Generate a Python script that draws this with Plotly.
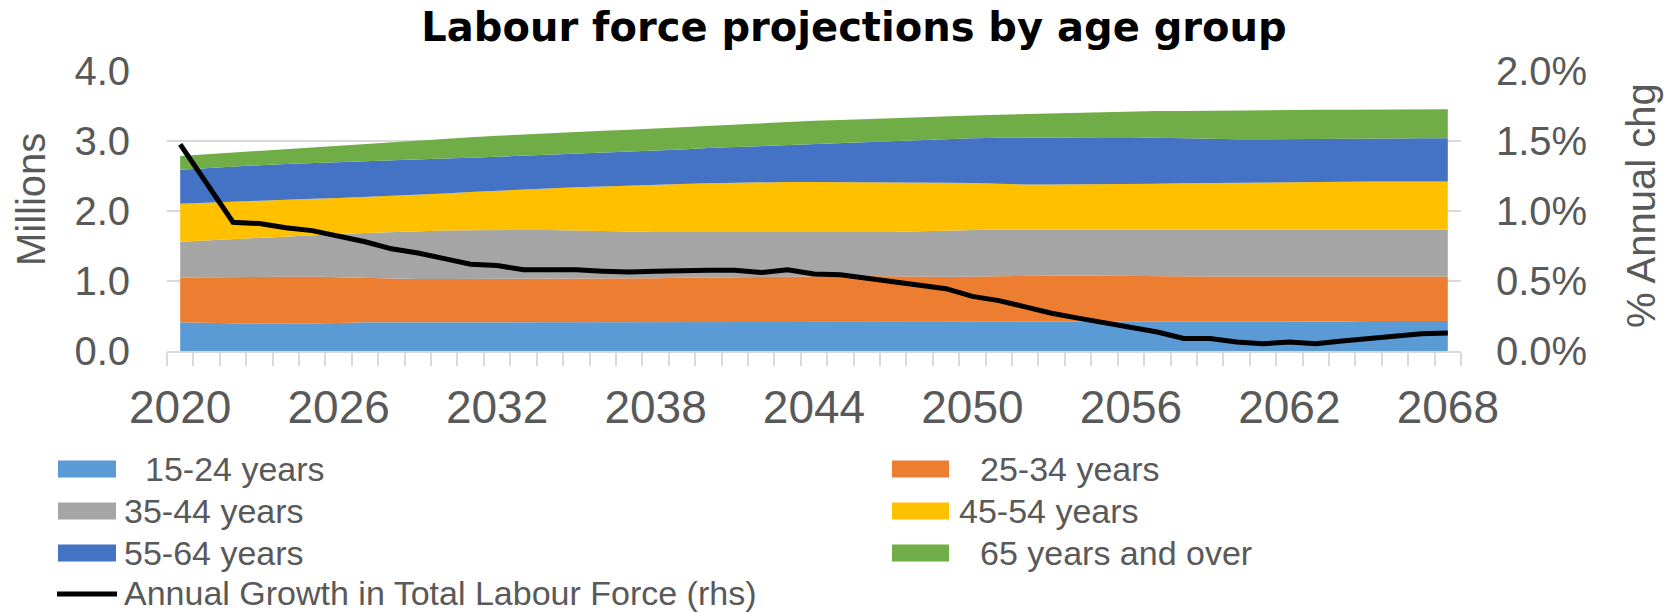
import plotly.graph_objects as go

# ---- data -------------------------------------------------------------
years = list(range(2020, 2069))

age_15_24 = [0.41, 0.40, 0.39, 0.39, 0.39, 0.39, 0.40, 0.41, 0.41, 0.41,
             0.41, 0.41, 0.41, 0.41, 0.41, 0.41, 0.41, 0.41, 0.41, 0.42,
             0.42, 0.42, 0.42, 0.42, 0.42, 0.42, 0.42, 0.42, 0.42, 0.42,
             0.42, 0.42, 0.42, 0.42, 0.42, 0.42, 0.42, 0.42, 0.42, 0.42,
             0.42, 0.42, 0.42, 0.42, 0.42, 0.43, 0.43, 0.43, 0.43]
age_25_34 = [0.640, 0.655, 0.670, 0.670, 0.675, 0.675, 0.655, 0.635, 0.625, 0.620,
             0.620, 0.620, 0.620, 0.620, 0.620, 0.625, 0.625, 0.625, 0.630, 0.625,
             0.630, 0.635, 0.640, 0.650, 0.650, 0.650, 0.650, 0.645, 0.640, 0.640,
             0.645, 0.650, 0.655, 0.660, 0.660, 0.655, 0.650, 0.645, 0.645, 0.645,
             0.645, 0.645, 0.645, 0.645, 0.645, 0.635, 0.635, 0.635, 0.635]
age_35_44 = [0.510, 0.525, 0.540, 0.560, 0.575, 0.585, 0.615, 0.640, 0.665, 0.680,
             0.690, 0.695, 0.700, 0.705, 0.700, 0.685, 0.675, 0.665, 0.660, 0.655,
             0.650, 0.645, 0.640, 0.630, 0.625, 0.620, 0.625, 0.635, 0.650, 0.660,
             0.665, 0.665, 0.660, 0.655, 0.655, 0.660, 0.665, 0.670, 0.670, 0.670,
             0.670, 0.670, 0.670, 0.670, 0.670, 0.670, 0.670, 0.670, 0.670]
age_45_54 = [0.545, 0.540, 0.540, 0.530, 0.525, 0.525, 0.515, 0.515, 0.510, 0.520,
             0.530, 0.545, 0.560, 0.575, 0.600, 0.620, 0.640, 0.665, 0.675, 0.685,
             0.695, 0.705, 0.715, 0.715, 0.720, 0.725, 0.720, 0.710, 0.700, 0.685,
             0.670, 0.650, 0.645, 0.645, 0.645, 0.650, 0.655, 0.655, 0.660, 0.665,
             0.670, 0.675, 0.680, 0.680, 0.685, 0.685, 0.685, 0.685, 0.685]
age_55_64 = [0.485, 0.495, 0.500, 0.505, 0.505, 0.510, 0.515, 0.515, 0.520, 0.510,
             0.500, 0.490, 0.485, 0.475, 0.470, 0.470, 0.475, 0.475, 0.485, 0.495,
             0.505, 0.510, 0.515, 0.530, 0.545, 0.560, 0.575, 0.590, 0.605, 0.625,
             0.640, 0.660, 0.670, 0.675, 0.675, 0.670, 0.665, 0.655, 0.640, 0.625,
             0.620, 0.615, 0.610, 0.610, 0.605, 0.610, 0.615, 0.620, 0.620]
age_65_plus = [0.195, 0.195, 0.190, 0.200, 0.210, 0.225, 0.235, 0.245, 0.260, 0.270,
               0.285, 0.295, 0.300, 0.310, 0.310, 0.320, 0.320, 0.320, 0.320, 0.320,
               0.315, 0.315, 0.320, 0.325, 0.330, 0.325, 0.325, 0.330, 0.330, 0.325,
               0.325, 0.330, 0.335, 0.340, 0.355, 0.365, 0.370, 0.385, 0.395, 0.410,
               0.415, 0.415, 0.420, 0.420, 0.420, 0.420, 0.415, 0.410, 0.415]

# annual growth in the total labour force, per cent
growth_pct = [1.476, 1.200, 0.920, 0.910, 0.880, 0.860, 0.820, 0.780, 0.730, 0.700,
              0.660, 0.620, 0.610, 0.580, 0.580, 0.580, 0.570, 0.564, 0.570, 0.576,
              0.576, 0.576, 0.560, 0.580, 0.550, 0.545, 0.520, 0.495, 0.470, 0.445,
              0.390, 0.360, 0.315, 0.270, 0.235, 0.205, 0.170, 0.136, 0.090, 0.090,
              0.064, 0.052, 0.064, 0.052, 0.071, 0.088, 0.112, 0.124, 0.129]

series_names = ["15-24 years", "25-34 years", "35-44 years",
                "45-54 years", "55-64 years", "65 years and over"]
series_values = [age_15_24, age_25_34, age_35_44, age_45_54, age_55_64, age_65_plus]
series_colors = ["#5B9BD5", "#ED7D31", "#A5A5A5", "#FFC000", "#4472C4", "#70AD47"]
line_name = "Annual Growth in Total Labour Force (rhs)"

x_ticks = list(range(2020, 2069, 6))
y_ticks = [0, 1, 2, 3, 4]
y_ticktext = ["0.0", "1.0", "2.0", "3.0", "4.0"]
y2_ticks = [0.0, 0.5, 1.0, 1.5, 2.0]
y2_ticktext = ["0.0%", "0.5%", "1.0%", "1.5%", "2.0%"]

# ---- page geometry (pixels) ---------------------------------------------
W, H = 1673, 612
L, R, T, B = 167, 1461, 71, 351
GRID = "#D9D9D9"
TXT = "#595959"
FONT = "Liberation Sans, Arial, sans-serif"


def px_x(p):
    return (p - L) / (R - L)


def px_y(p):
    return (B - p) / (B - T)


fig = go.Figure()

for name, vals, col in zip(series_names, series_values, series_colors):
    fig.add_trace(go.Scatter(
        x=years, y=vals, name=name, mode="lines",
        line=dict(width=0, color=col), fillcolor=col,
        stackgroup="labour", showlegend=False,
    ))

fig.add_trace(go.Scatter(
    x=years, y=growth_pct, name=line_name, mode="lines",
    line=dict(color="black", width=5), yaxis="y2", showlegend=False,
))

# ---- hand-built legend ----------------------------------------------------
shapes = []
annotations = []
legend_rows = [469, 511, 553]
col_swatch = [(58, 116), (892, 949)]
# text start per entry; some labels sit further from their swatch
legend_text_x = [143, 978, 122, 957, 122, 978]
for k, (name, col) in enumerate(zip(series_names, series_colors)):
    c, r = k % 2, k // 2
    yc = legend_rows[r]
    x0, x1 = col_swatch[c]
    shapes.append(dict(type="rect", xref="paper", yref="paper",
                       x0=px_x(x0), x1=px_x(x1), y0=px_y(yc + 8.5), y1=px_y(yc - 8.5),
                       fillcolor=col, line=dict(width=0), layer="above"))
    annotations.append(dict(text=name, xref="paper", yref="paper",
                            x=px_x(legend_text_x[k]), y=px_y(yc),
                            xanchor="left", yanchor="middle", showarrow=False,
                            font=dict(family=FONT, size=34, color=TXT)))
shapes.append(dict(type="line", xref="paper", yref="paper",
                   x0=px_x(57), x1=px_x(117), y0=px_y(594), y1=px_y(594),
                   line=dict(color="black", width=5)))
annotations.append(dict(text=line_name, xref="paper", yref="paper",
                        x=px_x(122), y=px_y(593), xanchor="left", yanchor="middle",
                        showarrow=False, font=dict(family=FONT, size=34, color=TXT)))

# axis titles
annotations.append(dict(text="Millions", xref="paper", yref="paper",
                        x=px_x(31), y=px_y(200), textangle=-90,
                        xanchor="center", yanchor="middle", showarrow=False,
                        font=dict(family=FONT, size=40, color=TXT)))
annotations.append(dict(text="% Annual chg", xref="paper", yref="paper",
                        x=px_x(1641), y=px_y(206), textangle=-90,
                        xanchor="center", yanchor="middle", showarrow=False,
                        font=dict(family=FONT, size=40, color=TXT)))

fig.update_layout(
    width=W, height=H,
    margin=dict(l=L, r=W - R, t=T, b=H - B, autoexpand=False),
    paper_bgcolor="white", plot_bgcolor="white",
    title=dict(text="<b>Labour force projections by age group</b>",
               xref="container", yref="container",
               x=854 / W, xanchor="center", y=1 - 27 / H, yanchor="middle",
               font=dict(family="DejaVu Sans, sans-serif", size=40, color="black")),
    xaxis=dict(
        range=[2019.5, 2068.5], tickvals=x_ticks, ticks="",
        showgrid=False, zeroline=False,
        showline=True, linecolor=GRID, linewidth=2,
        tickfont=dict(family=FONT, size=46, color=TXT),
        ticklabelstandoff=15,
        minor=dict(tick0=2019.5, dtick=1, ticks="outside", ticklen=13,
                   tickwidth=2, tickcolor=GRID, showgrid=False),
    ),
    yaxis=dict(
        range=[0, 4], tickvals=y_ticks, ticktext=y_ticktext,
        showgrid=True, gridcolor=GRID, gridwidth=2,
        zeroline=False, showline=False, ticks="",
        tickfont=dict(family=FONT, size=40, color=TXT),
        ticklabelstandoff=36,
    ),
    yaxis2=dict(
        range=[0, 2], tickvals=y2_ticks, ticktext=y2_ticktext,
        overlaying="y", side="right",
        showgrid=False, zeroline=False, showline=False, ticks="",
        tickfont=dict(family=FONT, size=40, color=TXT),
        ticklabelstandoff=34,
    ),
    shapes=shapes,
    annotations=annotations,
    showlegend=False,
)

fig.write_html("out.html")
